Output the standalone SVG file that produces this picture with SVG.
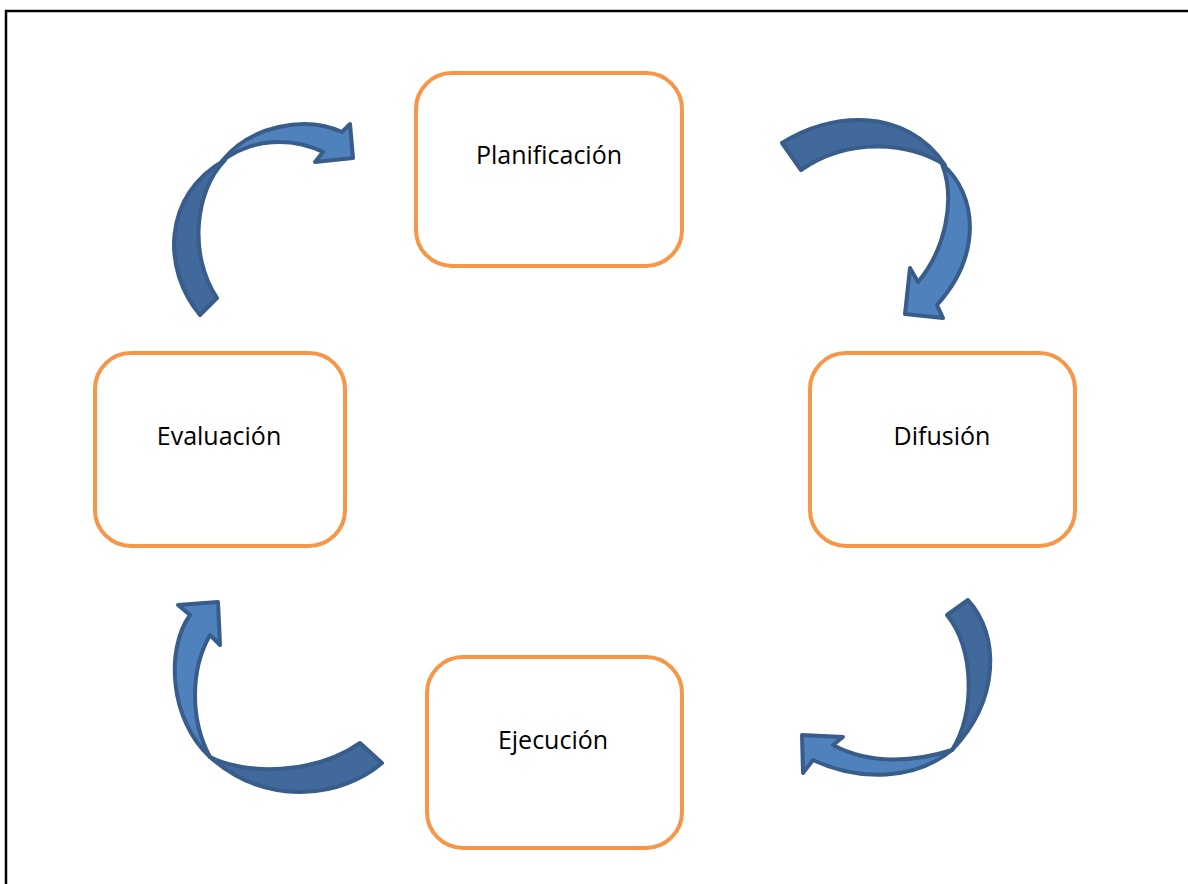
<svg xmlns="http://www.w3.org/2000/svg" width="1188" height="884" viewBox="0 0 1188 884">
<style>
.box{fill:#fff;stroke:#F79646;stroke-width:4}
.lbl{font-family:"Open Sans","Liberation Sans",sans-serif;font-size:25px;fill:#000;text-anchor:middle}
.back{fill:#41699B;stroke:#385D8A;stroke-width:4;stroke-linejoin:round}
.front{fill:#4F81BD;stroke:#385D8A;stroke-width:4;stroke-linejoin:round}
</style>
<rect width="1188" height="884" fill="#fff"/>
<path d="M6 884 V11 H1188" fill="none" stroke="#000" stroke-width="2.5"/>
<g id="connectors">
  <g id="arrow-plan-dif">
    <path class="back" d="M782 143 C830 112 905 106 945 165 C910 143 850 136 801 170 Z"/>
    <path class="front" d="M942 164 C978 195 982 255 937 305 L943 318 L905 314 L910 268 L918 282 C945 250 956 200 942 164 Z"/>
  </g>
  <g id="arrow-dif-eje">
    <path class="back" d="M968 600 C1000 635 1000 700 952 750 C975 715 975 650 947 615 Z"/>
    <path class="front" d="M952 750 C915 780 860 782 813 760 L803 773 L802 735 L843 737 L833 745 C870 765 915 762 952 750 Z"/>
  </g>
  <g id="arrow-eje-eva">
    <path class="back" d="M382 763 C345 795 270 810 210 757 C245 775 315 775 360 743 Z"/>
    <path class="front" d="M210 757 C170 720 165 650 190 615 L178 605 L218 602 L220 645 L210 635 C190 670 190 720 210 757 Z"/>
  </g>
  <g id="arrow-eva-plan">
    <path class="back" d="M200 315 C162 270 162 195 225 160 C195 190 188 255 217 298 Z"/>
    <path class="front" d="M222 161 C250 126 305 115 342 132 L350 124 L353 158 L315 162 L323 152 C292 137 252 138 222 161 Z"/>
  </g>
</g>
<g id="node-planificacion">
  <rect class="box" x="416" y="73" width="266" height="193" rx="36"/>
  <text class="lbl" x="549" y="164">Planificación</text>
</g>
<g id="node-difusion">
  <rect class="box" x="810" y="353" width="265" height="193" rx="36"/>
  <text class="lbl" x="942" y="445">Difusión</text>
</g>
<g id="node-ejecucion">
  <rect class="box" x="427" y="657" width="255" height="191" rx="36"/>
  <text class="lbl" x="553" y="749">Ejecución</text>
</g>
<g id="node-evaluacion">
  <rect class="box" x="95" y="353" width="250" height="193" rx="36"/>
  <text class="lbl" x="219" y="445">Evaluación</text>
</g>
</svg>
